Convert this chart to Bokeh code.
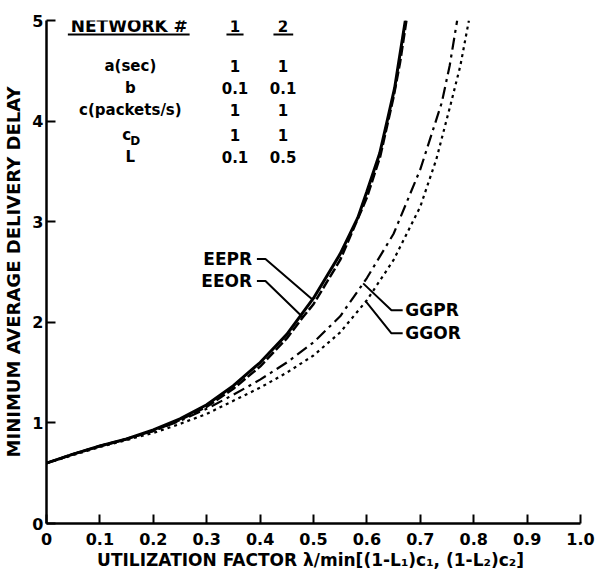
import numpy as np
from bokeh.plotting import figure
from bokeh.models import Range1d, FixedTicker
from bokeh.core.properties import value
from bokeh.embed import file_html
from bokeh.resources import INLINE

# ---- data ----
x_ticks = [0, 0.1, 0.2, 0.3, 0.4, 0.5, 0.6, 0.7, 0.8, 0.9, 1.0]
x_tick_labels = ["0", "0.1", "0.2", "0.3", "0.4", "0.5", "0.6", "0.7", "0.8", "0.9", "1.0"]
y_ticks = [0, 1, 2, 3, 4, 5]

eepr_x = [0, 0.05, 0.1, 0.15, 0.2, 0.25, 0.3, 0.35, 0.4, 0.45, 0.5, 0.55, 0.583, 0.6, 0.624, 0.64, 0.652, 0.66, 0.672]
eepr_y = [0.60, 0.69, 0.77, 0.84, 0.93, 1.04, 1.18, 1.37, 1.60, 1.88, 2.24, 2.68, 3.04, 3.30, 3.68, 4.05, 4.33, 4.60, 5.0]

eeor_x = [0, 0.05, 0.1, 0.15, 0.2, 0.25, 0.3, 0.35, 0.4, 0.45, 0.48, 0.5, 0.55, 0.6, 0.625, 0.65, 0.662, 0.674]
eeor_y = [0.60, 0.69, 0.77, 0.84, 0.92, 1.03, 1.16, 1.34, 1.56, 1.84, 2.05, 2.18, 2.62, 3.24, 3.65, 4.24, 4.58, 5.0]

ggpr_x = [0, 0.05, 0.1, 0.15, 0.2, 0.25, 0.3, 0.35, 0.4, 0.45, 0.5, 0.55, 0.6, 0.65, 0.7, 0.74, 0.755, 0.769]
ggpr_y = [0.60, 0.69, 0.77, 0.84, 0.92, 1.02, 1.14, 1.28, 1.43, 1.60, 1.80, 2.06, 2.44, 2.88, 3.52, 4.18, 4.55, 5.0]

ggor_x = [0, 0.05, 0.1, 0.15, 0.2, 0.25, 0.3, 0.35, 0.4, 0.45, 0.5, 0.55, 0.6, 0.65, 0.7, 0.73, 0.757, 0.775, 0.791]
ggor_y = [0.60, 0.68, 0.76, 0.83, 0.90, 0.99, 1.09, 1.22, 1.35, 1.50, 1.67, 1.90, 2.22, 2.62, 3.15, 3.62, 4.17, 4.55, 5.0]

table_rows = ["a(sec)", "b", "c(packets/s)", "c", "L"]
net1 = ["1", "0.1", "1", "1", "0.1"]
net2 = ["1", "0.1", "1", "1", "0.5"]

FONT = value("DejaVu Sans")

p = figure(width=595, height=572, output_backend="svg", toolbar_location=None,
           x_range=Range1d(0, 1.0), y_range=Range1d(0, 5),
           min_border_left=40, min_border_right=15, min_border_top=20, min_border_bottom=49)
p.outline_line_color = None
p.grid.grid_line_color = None
p.background_fill_color = "white"
p.border_fill_color = "white"

# axes
for ax in (p.xaxis[0], p.yaxis[0]):
    ax.axis_line_width = 2.5
    ax.axis_line_color = "black"
    ax.major_tick_in = 9
    ax.major_tick_out = 0
    ax.major_tick_line_width = 2
    ax.minor_tick_line_color = None
    ax.major_label_text_font = "DejaVu Sans"
    ax.major_label_text_font_style = "bold"
    ax.major_label_text_font_size = "16px"
    ax.major_label_text_color = "black"
    ax.axis_label_text_font = "DejaVu Sans"
    ax.axis_label_text_font_style = "bold"
    ax.axis_label_text_color = "black"

p.xaxis.ticker = FixedTicker(ticks=x_ticks)
p.xaxis.major_label_overrides = {t: l for t, l in zip(x_ticks, x_tick_labels)}
p.xaxis.major_label_standoff = 9
p.xaxis.axis_label = "UTILIZATION FACTOR  λ/min[(1-L\u2081)c\u2081, (1-L\u2082)c\u2082]"
p.xaxis.axis_label_text_font_size = "17px"
p.xaxis.axis_label_standoff = 2

p.yaxis.ticker = FixedTicker(ticks=y_ticks)
p.yaxis.major_label_standoff = 3
p.yaxis.axis_label = "MINIMUM AVERAGE DELIVERY DELAY"
p.yaxis.axis_label_text_font_size = "18px"
p.yaxis.axis_label_standoff = 5

# curves
p.line(eepr_x, eepr_y, line_color="black", line_width=3)
p.line(eeor_x, eeor_y, line_color="black", line_width=2.5, line_dash="10 3")
p.line(ggpr_x, ggpr_y, line_color="black", line_width=2.2, line_dash="12 5 3 5")
p.line(ggor_x, ggor_y, line_color="black", line_width=2.2, line_dash="3 4")

# curve labels with leader lines (endpoints taken on the curves)
def on_curve(xs, ys, x):
    return float(np.interp(x, xs, ys))

lab_style = dict(text_font=FONT, text_font_style="bold", text_font_size="17px",
                 text_color="black", text_baseline="middle")

p.text([0.385], [2.63], text=["EEPR"], text_align="right", **lab_style)
p.text([0.385], [2.41], text=["EEOR"], text_align="right", **lab_style)
p.text([0.672], [2.12], text=["GGPR"], text_align="left", **lab_style)
p.text([0.672], [1.89], text=["GGOR"], text_align="left", **lab_style)

p.line([0.394, 0.41, 0.498], [2.63, 2.63, on_curve(eepr_x, eepr_y, 0.498)], line_color="black", line_width=2)
p.line([0.394, 0.41, 0.48], [2.41, 2.41, on_curve(eeor_x, eeor_y, 0.48)], line_color="black", line_width=2)
p.line([0.667, 0.646, 0.593], [2.12, 2.12, on_curve(ggpr_x, ggpr_y, 0.593)], line_color="black", line_width=2)
p.line([0.667, 0.646, 0.598], [1.89, 1.89, on_curve(ggor_x, ggor_y, 0.598)], line_color="black", line_width=2)

# parameter table
tab_style = dict(text_font=FONT, text_font_style="bold", text_font_size="15px",
                 text_color="black", text_baseline="middle", text_align="center")
row_y = [4.55, 4.33, 4.11, 3.86, 3.64]
p.text([0.155], [4.95], text=["NETWORK #"], text_font=FONT, text_font_style="bold",
       text_font_size="17px", text_color="black", text_baseline="middle", text_align="center")
p.text([0.353], [4.95], text=["1"], **tab_style)
p.text([0.443], [4.95], text=["2"], **tab_style)
p.segment(x0=[0.04, 0.337, 0.425], y0=[4.86] * 3, x1=[0.268, 0.369, 0.462], y1=[4.86] * 3,
          line_color="black", line_width=2)
label_x = [0.157, 0.157, 0.157, 0.150, 0.157]
p.text(label_x, row_y, text=table_rows, **tab_style)
p.text([0.166], [3.80], text=["D"], text_font=FONT, text_font_style="bold", text_font_size="12px",
       text_color="black", text_baseline="middle", text_align="center")
p.text([0.353] * 5, row_y, text=net1, **tab_style)
p.text([0.443] * 5, row_y, text=net2, **tab_style)

open("out.html", "w").write(file_html(p, INLINE))
